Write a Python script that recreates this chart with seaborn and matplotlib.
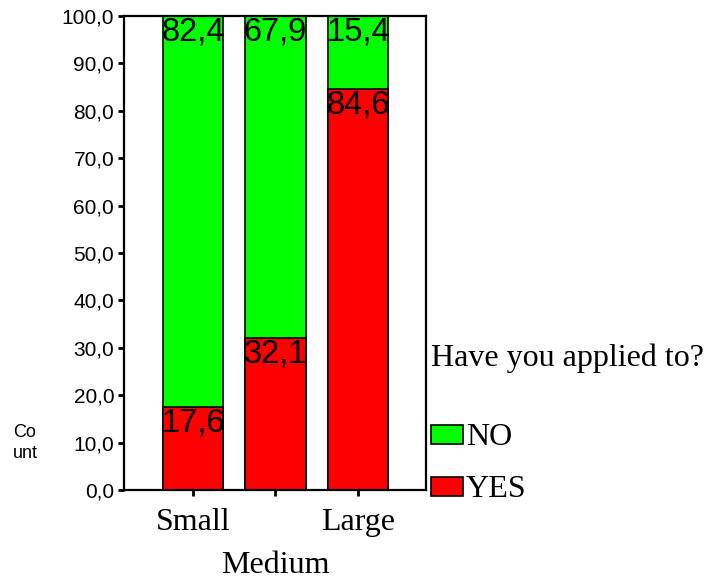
import matplotlib
matplotlib.use('Agg')
import matplotlib.pyplot as plt
import matplotlib.patches as mpatches
import seaborn as sns

# Data (percent within each size)
sizes = ['Small', 'Medium', 'Large']
yes_pct = [17.6, 32.1, 84.6]
no_pct = [82.4, 67.9, 15.4]
y_ticks = [0, 10, 20, 30, 40, 50, 60, 70, 80, 90, 100]
legend_title = 'Have you applied to?'
legend_labels = ['NO', 'YES']

green = '#00ff00'
red = '#ff0000'

sns.set_style('white')
plt.rcParams['font.family'] = ['Liberation Sans', 'DejaVu Sans']
plt.rcParams['text.color'] = 'black'
plt.rcParams['axes.labelcolor'] = 'black'
plt.rcParams['xtick.color'] = 'black'
plt.rcParams['ytick.color'] = 'black'

fig = plt.figure(figsize=(7.1, 5.82), dpi=100)
ax = fig.add_axes([0.1746, 0.158, 0.4254, 0.8144])

# stacked 100% bars: full height green (NO on top), red YES drawn over it
totals = [y + n for y, n in zip(yes_pct, no_pct)]
sns.barplot(x=sizes, y=totals, color=green, saturation=1, width=0.73,
            edgecolor='black', linewidth=1.2, ax=ax)
sns.barplot(x=sizes, y=yes_pct, color=red, saturation=1, width=0.73,
            edgecolor='black', linewidth=1.2, ax=ax)

# value labels at top of each segment
for i in range(len(sizes)):
    ax.text(i, totals[i] - 0.1, f'{no_pct[i]:.1f}'.replace('.', ','),
            ha='center', va='top', fontsize=23.5, color='black')
    ax.text(i, yes_pct[i] - 0.1, f'{yes_pct[i]:.1f}'.replace('.', ','),
            ha='center', va='top', fontsize=23.5, color='black')

ax.set_ylim(0, 100)
ax.set_xlim(-0.836, 2.824)
ax.set_yticks(y_ticks)
ax.set_yticklabels([f'{v:.1f}'.replace('.', ',') for v in y_ticks], fontsize=15)

# staggered category labels: even ones on the first row, odd ones below
pos = list(range(len(sizes)))
ax.set_xticks(pos[0::2])
ax.set_xticklabels(sizes[0::2], family='Liberation Serif', fontsize=23)
ax.set_xticks(pos[1::2], minor=True)
ax.set_xticklabels(sizes[1::2], minor=True, family='Liberation Serif', fontsize=23)
ax.tick_params(axis='both', which='both', direction='out', length=4, width=2,
               left=True, bottom=True, pad=3)
ax.tick_params(axis='x', which='major', pad=9)
ax.tick_params(axis='x', which='minor', pad=40)
ax.set_xlabel('')

for sp in ax.spines.values():
    sp.set_visible(True)
    sp.set_color('black')
    sp.set_linewidth(1.6)

ax.set_ylabel('Co\nunt', rotation=0, fontsize=13, ha='left', va='center',
              multialignment='left', linespacing=1.25)
ax.yaxis.set_label_coords(-0.368, 0.099)

handles = [mpatches.Patch(facecolor=green, edgecolor='black', linewidth=1.2),
           mpatches.Patch(facecolor=red, edgecolor='black', linewidth=1.2)]
leg = fig.legend(handles, legend_labels, title=legend_title, loc='upper left',
                 bbox_to_anchor=(0.607, 0.409), frameon=False,
                 prop={'family': 'Liberation Serif', 'size': 23},
                 handlelength=1.0, handleheight=0.55, handletextpad=0.1,
                 labelspacing=0.72, borderpad=0, borderaxespad=0,
                 alignment='left')
leg.get_title().set_fontfamily('Liberation Serif')
leg.get_title().set_fontsize(23)
leg._legend_box.sep = 36

fig.savefig('out.png', dpi=100)
